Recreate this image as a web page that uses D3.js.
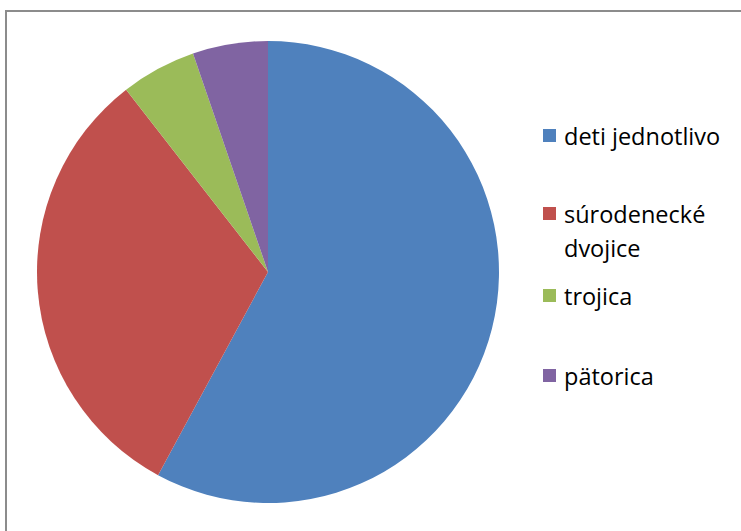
<!DOCTYPE html>
<html>
<head>
<meta charset="utf-8">
<script src="https://cdn.jsdelivr.net/npm/d3@7"></script>
<style>
  html, body { margin: 0; padding: 0; background: #fff; }
  svg { display: block; }
</style>
</head>
<body>
<script>
// Children groups by how they were placed
const categories = ["deti jednotlivo", "súrodenecké dvojice", "trojica", "pätorica"];
const legendLines = [["deti jednotlivo"], ["súrodenecké", "dvojice"], ["trojica"], ["pätorica"]];
const values = [11, 6, 1, 1];
const colors = ["#4F81BD", "#C0504D", "#9BBB59", "#8064A2"];

const W = 741, H = 531;
const svg = d3.select("body").append("svg").attr("width", W).attr("height", H);

// chart frame (runs off the right and bottom edges)
svg.append("rect")
  .attr("x", 6).attr("y", 11)
  .attr("width", 900).attr("height", 700)
  .attr("fill", "#fff")
  .attr("stroke", "#8c8c8c")
  .attr("stroke-width", 2);

const cx = 268, cy = 272, r = 231;
const pie = d3.pie().sort(null).value(d => d)(values);
const arc = d3.arc().innerRadius(0).outerRadius(r);

svg.append("g")
  .attr("transform", `translate(${cx},${cy})`)
  .selectAll("path")
  .data(pie)
  .join("path")
  .attr("d", arc)
  .attr("fill", (d, i) => colors[i]);

// legend
const rowY = [145, 223, 305, 385];
const lg = svg.append("g")
  .style("font-family", "'Open Sans', sans-serif")
  .style("font-size", "23.5px");
categories.forEach((c, i) => {
  lg.append("rect")
    .attr("x", 543).attr("y", rowY[i] - 16)
    .attr("width", 13).attr("height", 13)
    .attr("fill", colors[i]);
  const t = lg.append("text").attr("x", 564).attr("y", rowY[i]).attr("fill", "#000");
  legendLines[i].forEach((line, j) => {
    t.append("tspan").attr("x", 564).attr("dy", j === 0 ? 0 : 34).text(line);
  });
});
</script>
</body>
</html>
